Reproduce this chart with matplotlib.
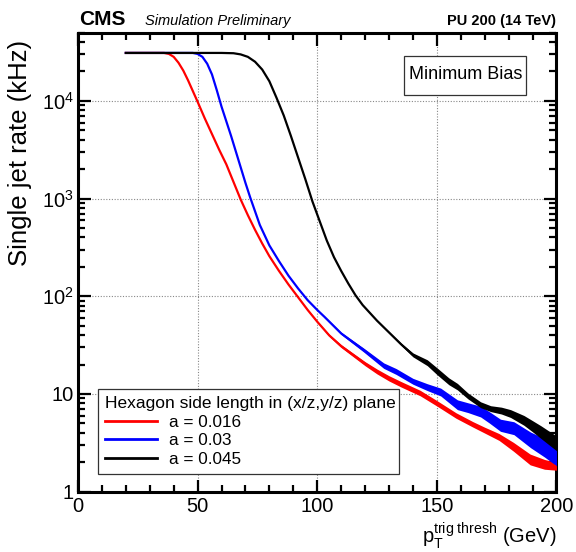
import numpy as np
import matplotlib
matplotlib.use("Agg")
import matplotlib.pyplot as plt
from matplotlib.lines import Line2D
from matplotlib.patches import Rectangle
from matplotlib.ticker import FixedLocator, MultipleLocator, LogLocator, NullFormatter

plt.rcParams['font.family'] = ['Liberation Sans', 'DejaVu Sans']
plt.rcParams['mathtext.fontset'] = 'custom'
plt.rcParams['mathtext.rm'] = 'Liberation Sans'
plt.rcParams['mathtext.it'] = 'Liberation Sans:italic'
plt.rcParams['mathtext.bf'] = 'Liberation Sans:bold'

# ---- data (rates given as log10(kHz)) ----
labels = ["a = 0.016", "a = 0.03", "a = 0.045"]
colors = ["#ff0000", "#0000ff", "#000000"]

red_x = [20, 30, 36, 38, 40, 42, 44, 46, 48, 50, 53, 56, 59, 62, 65, 68, 71, 74, 77, 80,
         84, 88, 92, 96, 100, 105, 110, 115, 120, 125, 130, 135, 143, 150, 158, 165, 170,
         176, 182, 189, 195, 200]
red_log = [4.49, 4.49, 4.49, 4.48, 4.45, 4.39, 4.31, 4.21, 4.10, 3.99, 3.82, 3.66, 3.50,
           3.35, 3.17, 2.99, 2.83, 2.68, 2.54, 2.41, 2.26, 2.12, 1.99, 1.86, 1.74, 1.60,
           1.49, 1.40, 1.31, 1.23, 1.16, 1.10, 1.01, 0.905, 0.78, 0.69, 0.63, 0.56, 0.46,
           0.33, 0.28, 0.26]
red_err = [0, 0, 0, 0, 0, 0, 0, 0, 0, 0, 0, 0, 0, 0, 0, 0, 0, 0, 0, 0, 0, 0.002, 0.003,
           0.005, 0.007, 0.011, 0.015, 0.018, 0.021, 0.025, 0.027, 0.028, 0.028, 0.028,
           0.028, 0.028, 0.03, 0.035, 0.045, 0.055, 0.05, 0.04]

blue_x = [20, 40, 48, 50, 52, 54, 56, 58, 60, 62, 64, 66, 68, 70, 72, 76, 80, 84, 88, 92,
          96, 100, 103, 110, 119.4, 127.8, 133, 140, 146, 151.6, 158.6, 163, 168.3, 172,
          176.6, 182.2, 189.2, 195, 200]
blue_log = [4.49, 4.49, 4.49, 4.48, 4.45, 4.38, 4.27, 4.11, 3.94, 3.79, 3.64, 3.48, 3.32,
            3.16, 3.01, 2.73, 2.52, 2.36, 2.21, 2.08, 1.96, 1.86, 1.79, 1.62, 1.45, 1.29,
            1.23, 1.13, 1.07, 1.02, 0.89, 0.86, 0.82, 0.76, 0.68, 0.65, 0.53, 0.45, 0.37]
blue_err = [0, 0, 0, 0, 0, 0, 0, 0, 0, 0, 0, 0, 0, 0, 0, 0, 0, 0, 0.002, 0.003, 0.004,
            0.006, 0.008, 0.012, 0.02, 0.028, 0.03, 0.03, 0.035, 0.04, 0.05, 0.05, 0.055,
            0.058, 0.062, 0.066, 0.08, 0.095, 0.105]

black_x = [20, 60, 65, 68, 71, 74, 77, 80, 83, 86, 89, 92, 95, 98, 101, 104, 107, 110,
           113, 116, 119, 122, 125, 130, 135, 140, 146, 150.2, 155, 158.6, 163, 168.3,
           172.5, 177, 180.8, 186.4, 190, 193.5, 200]
black_log = [4.49, 4.49, 4.487, 4.475, 4.45, 4.40, 4.32, 4.20, 4.03, 3.85, 3.64, 3.42,
             3.20, 2.97, 2.77, 2.57, 2.40, 2.26, 2.13, 2.01, 1.91, 1.83, 1.75, 1.63, 1.51,
             1.40, 1.32, 1.23, 1.13, 1.075, 0.98, 0.89, 0.85, 0.83, 0.80, 0.73, 0.67,
             0.61, 0.495]
black_err = [0, 0, 0, 0, 0, 0, 0, 0, 0, 0, 0, 0, 0, 0, 0, 0, 0, 0, 0, 0, 0.002, 0.003,
             0.004, 0.008, 0.012, 0.02, 0.03, 0.035, 0.035, 0.033, 0.03, 0.03, 0.03,
             0.035, 0.04, 0.05, 0.057, 0.065, 0.075]

series = [(red_x, red_log, red_err), (blue_x, blue_log, blue_err), (black_x, black_log, black_err)]

x_ticks = [0, 50, 100, 150, 200]
y_ticks = [1, 10, 100, 1000, 10000]
y_tick_labels = ["1", "10", r"$10^{2}$", r"$10^{3}$", r"$10^{4}$"]

# ---- figure ----
fig = plt.figure(figsize=(5.76, 5.52), dpi=100)
ax = fig.add_axes([0.1354, 0.1092, 0.8307, 0.8319])

for (xs, lg, er), c in zip(series, colors):
    xs = np.array(xs, float)
    lg = np.array(lg, float)
    er = np.array(er, float)
    ax.fill_between(xs, 10 ** (lg - er), 10 ** (lg + er), color=c, lw=0, zorder=3)
    ax.plot(xs, 10 ** lg, color=c, lw=1.6, zorder=4, solid_joinstyle='round')

ax.set_yscale('log')
ax.set_xlim(0, 200)
ax.set_ylim(1, 5.0e4)

ax.xaxis.set_major_locator(FixedLocator(x_ticks))
ax.xaxis.set_minor_locator(MultipleLocator(10))
ax.yaxis.set_major_locator(FixedLocator(y_ticks))
ax.yaxis.set_minor_locator(LogLocator(base=10, subs=np.arange(2, 10), numticks=20))
ax.yaxis.set_minor_formatter(NullFormatter())
ax.set_yticklabels(y_tick_labels)
ax.set_xticklabels([str(t) for t in x_ticks])

ax.tick_params(which='both', direction='in', top=True, right=True, width=1.6, colors='black')
ax.tick_params(which='major', length=9, labelsize=14.5, pad=3)
ax.tick_params(which='minor', length=5)
ax.tick_params(axis='x', which='major', pad=4)
for sp in ax.spines.values():
    sp.set_linewidth(2.2)

ax.grid(True, which='major', linestyle=(0, (1, 1.5)), color='#888888', lw=0.8)
ax.set_axisbelow(True)

ax.set_ylabel("Single jet rate (kHz)", fontsize=18.5, loc='top')
ax.yaxis.set_label_coords(-0.097, 0.985)
ax.set_xlabel(r"$\mathrm{p}_{\mathrm{T}}^{\mathrm{trig\ thresh}}$ (GeV)", fontsize=14.5, loc='right')
ax.xaxis.set_label_coords(1.0, -0.063)

# header
fig.text(0.137, 0.955, "CMS", fontsize=15, fontweight='bold', ha='left', va='baseline')
fig.text(0.252, 0.955, "Simulation Preliminary", fontsize=10.5, style='italic', ha='left', va='baseline')
fig.text(0.966, 0.955, "PU 200 (14 TeV)", fontsize=10.5, fontweight='bold', ha='right', va='baseline')

# Minimum Bias box
ax.add_patch(Rectangle((0.682, 0.865), 0.255, 0.0848, transform=ax.transAxes, fc='white',
                       ec='#333333', lw=0.9, zorder=6))
ax.text(0.81, 0.9076, "Minimum Bias", transform=ax.transAxes, fontsize=13, ha='center',
        va='center', zorder=7)

handles = [Line2D([0], [0], color=c, lw=2.0) for c in colors]
leg = ax.legend(handles, labels, title="Hexagon side length in (x/z,y/z) plane",
                loc='lower left', bbox_to_anchor=(0.0418, 0.0385, 0.63, 0.18), mode='expand',
                fontsize=12.3, title_fontsize=12.5,
                frameon=True, fancybox=False, edgecolor='#333333', framealpha=1,
                handlelength=3.05, handletextpad=0.7, borderpad=0.4, labelspacing=0.22,
                alignment='left', borderaxespad=0)
leg.get_frame().set_linewidth(0.9)
leg.set_zorder(8)

fig.savefig("out.png", dpi=100)
